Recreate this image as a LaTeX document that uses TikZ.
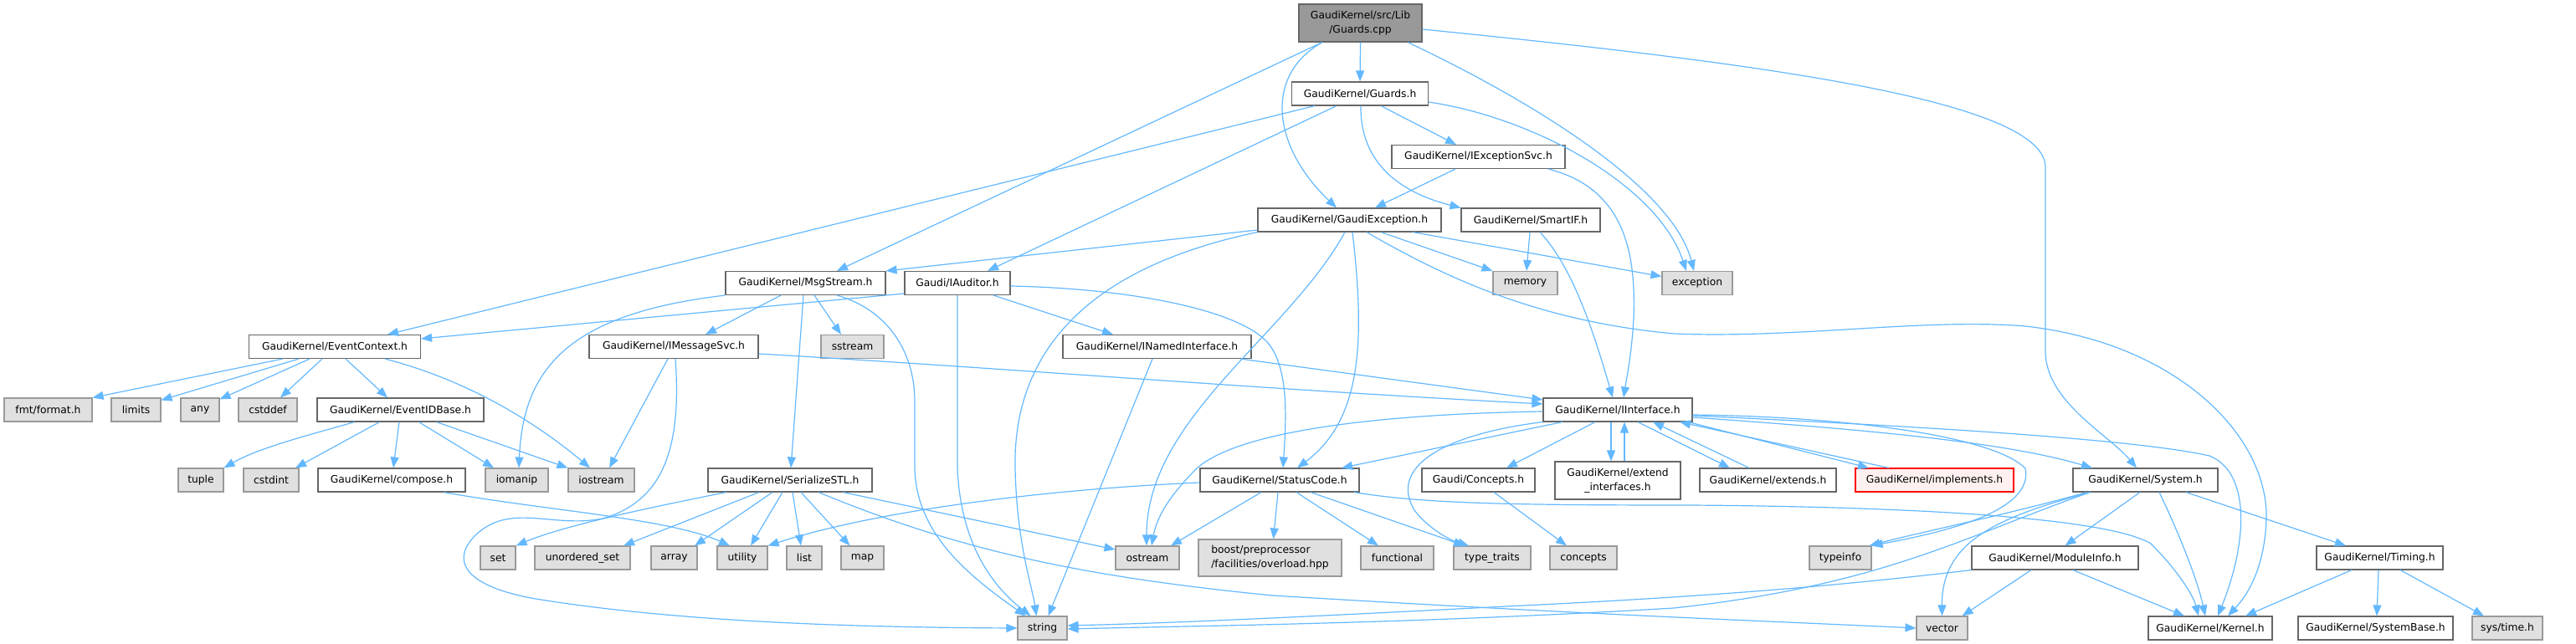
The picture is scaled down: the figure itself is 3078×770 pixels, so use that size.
\documentclass[tikz,border=0pt]{standalone}
\usepackage{fontspec}
\setmainfont{DejaVu Sans}
\usetikzlibrary{arrows.meta}
\definecolor{edgecol}{HTML}{63B8FF}
\definecolor{nodeborder}{HTML}{666666}
\definecolor{sysborder}{HTML}{999999}
\definecolor{sysfill}{HTML}{E0E0E0}
\definecolor{rootfill}{HTML}{999999}
\definecolor{warnborder}{HTML}{FF0000}
\definecolor{warnfill}{HTML}{FFF0F0}
\tikzset{
  nd/.style={draw=nodeborder, fill=white, line width=1.1pt, minimum height=28pt, inner sep=0pt, font=\fontsize{12.3}{17}\selectfont, text=black},
  sys/.style={nd, draw=sysborder, fill=sysfill},
  rootnd/.style={nd, fill=rootfill, align=center},
  warnnd/.style={nd, draw=warnborder, fill=warnfill},
  conn/.style={draw=edgecol, line width=1.2pt, -{Triangle[length=13pt,width=10pt]}}
}
\begin{document}
\begin{tikzpicture}[x=1pt,y=-1pt]
\useasboundingbox (0,0) rectangle (3078,770);
% nodes
\node[rootnd, minimum width=147pt, minimum height=45pt] (root) at (1625.5,27.5) {GaudiKernel/src/Lib\\/Guards.cpp};
\node[nd, minimum width=163pt] (guardsh) at (1625,112) {GaudiKernel/Guards.h};
\node[nd, minimum width=207pt] (iexcsvc) at (1766.5,187.5) {GaudiKernel/IExceptionSvc.h};
\node[nd, minimum width=219pt] (gexc) at (1612.5,263) {GaudiKernel/GaudiException.h};
\node[nd, minimum width=166pt] (smartif) at (1829,263) {GaudiKernel/SmartIF.h};
\node[sys, minimum width=77pt] (memory) at (1822.5,338.5) {memory};
\node[sys, minimum width=84pt] (exception) at (2028,338.5) {exception};
\node[nd, minimum width=191pt] (msgstream) at (962.5,338.5) {GaudiKernel/MsgStream.h};
\node[nd, minimum width=126pt] (iauditor) at (1144,338.5) {Gaudi/IAuditor.h};
\node[nd, minimum width=205pt] (eventctx) at (400,414.5) {GaudiKernel/EventContext.h};
\node[nd, minimum width=202pt] (imsgsvc) at (805,414.5) {GaudiKernel/IMessageSvc.h};
\node[sys, minimum width=75pt] (sstream) at (1018.5,414.5) {sstream};
\node[nd, minimum width=225pt] (inamed) at (1382.5,414.5) {GaudiKernel/INamedInterface.h};
\node[sys, minimum width=105pt] (fmt) at (57.5,490) {fmt/format.h};
\node[sys, minimum width=59pt] (limits) at (162.5,490) {limits};
\node[sys, minimum width=46pt] (nany) at (239,490) {any};
\node[sys, minimum width=70pt] (cstddef) at (320,490) {cstddef};
\node[nd, minimum width=199pt] (eventid) at (478.5,490) {GaudiKernel/EventIDBase.h};
\node[nd, minimum width=178pt] (iinterface) at (1933,490) {GaudiKernel/IInterface.h};
\node[sys, minimum width=54pt] (tuple) at (240,574) {tuple};
\node[sys, minimum width=66pt] (cstdint) at (324,574) {cstdint};
\node[nd, minimum width=176pt] (compose) at (468,574) {GaudiKernel/compose.h};
\node[sys, minimum width=75pt] (iomanip) at (617.5,574) {iomanip};
\node[sys, minimum width=79pt] (iostream) at (718.5,574) {iostream};
\node[nd, minimum width=196pt] (serialize) at (944,574) {GaudiKernel/SerializeSTL.h};
\node[nd, minimum width=190pt] (statuscode) at (1529,574) {GaudiKernel/StatusCode.h};
\node[nd, minimum width=135pt] (conch) at (1766.5,574) {Gaudi/Concepts.h};
\node[nd, minimum width=150pt, minimum height=45pt, align=center] (extendif) at (1933,574.5) {GaudiKernel/extend\\\_interfaces.h};
\node[nd, minimum width=163pt] (extends) at (2112.5,574) {GaudiKernel/extends.h};
\node[warnnd, minimum width=189pt] (implements) at (2311.5,574) {GaudiKernel/implements.h};
\node[nd, minimum width=173pt] (system) at (2563.5,574) {GaudiKernel/System.h};
\node[sys, minimum width=42pt] (nset) at (595,667) {set};
\node[sys, minimum width=114pt] (uset) at (696,667) {unordered\_set};
\node[sys, minimum width=55pt] (narray) at (805.5,667) {array};
\node[sys, minimum width=60pt] (utility) at (887,667) {utility};
\node[sys, minimum width=42pt] (nlist) at (961,667) {list};
\node[sys, minimum width=51pt] (nmap) at (1030.5,667) {map};
\node[sys, minimum width=76pt] (ostream) at (1371,667) {ostream};
\node[sys, minimum width=171pt, minimum height=44pt, align=left] (boost) at (1517.5,667) {boost/preprocessor\\/facilities/overload.hpp};
\node[sys, minimum width=87pt] (functional) at (1669.5,667) {functional};
\node[sys, minimum width=92pt] (typetraits) at (1783,667) {type\_traits};
\node[sys, minimum width=80pt] (concstd) at (1892,667) {concepts};
\node[sys, minimum width=74pt] (typeinfo) at (2199,667) {typeinfo};
\node[nd, minimum width=199pt] (moduleinfo) at (2455.5,667) {GaudiKernel/ModuleInfo.h};
\node[nd, minimum width=151pt] (timing) at (2843.5,667) {GaudiKernel/Timing.h};
\node[sys, minimum width=59pt] (nstring) at (1245.5,751) {string};
\node[sys, minimum width=61pt] (nvector) at (2320.5,751) {vector};
\node[nd, minimum width=148pt] (kernel) at (2641,751) {GaudiKernel/Kernel.h};
\node[nd, minimum width=185pt] (systembase) at (2838.5,751) {GaudiKernel/SystemBase.h};
\node[sys, minimum width=84pt] (systime) at (2996,751) {sys/time.h};
% root edges
\draw[conn] (root.south) -- (guardsh.north);
\draw[conn] ([xshift=-45.5pt]root.south) -- ([xshift=37.5pt]msgstream.north);
\draw[conn] ([xshift=-45.5pt]root.south) .. controls (1510,90) and (1520,175) .. ([xshift=-15.5pt]gexc.north);
\draw[conn] ([xshift=56.5pt]root.south) .. controls (1850,130) and (2000,230) .. ([xshift=-4pt]exception.north);
\draw[conn] ([yshift=-7.5pt]root.east) .. controls (2100,75) and (2444,120) .. (2444,200) -- (2444,420) .. controls (2444,480) and (2520,520) .. ([xshift=-10.5pt]system.north);
% Guards.h
\draw[conn] ([xshift=-54pt]guardsh.south) -- ([xshift=63pt]eventctx.north);
\draw[conn] ([xshift=-28pt]guardsh.south) -- ([xshift=36pt]iauditor.north);
\draw[conn] ([xshift=25pt]guardsh.south) -- ([xshift=-26.5pt]iexcsvc.north);
\draw[conn] ([xshift=1pt]guardsh.south) .. controls (1625,200) and (1680,232) .. (smartif.north west);
\draw[conn] ([yshift=-10pt]guardsh.east) .. controls (1830,140) and (1980,220) .. ([xshift=-13pt]exception.north);
% IExceptionSvc
\draw[conn] ([xshift=-27.5pt]iexcsvc.south) -- ([xshift=30.5pt]gexc.north);
\draw[conn] ([xshift=83.5pt]iexcsvc.south) .. controls (1940,225) and (1955,300) .. (1952,380) .. controls (1950,420) and (1944,450) .. ([xshift=7pt]iinterface.north);
% GaudiException
\draw[conn] ([yshift=-12pt]gexc.west) -- (msgstream.north east);
\draw[conn] (gexc.south west) .. controls (1300,320) and (1210,420) .. (1213,560) .. controls (1215,650) and (1233,700) .. ([xshift=-7pt]nstring.north);
\draw[conn] ([xshift=-5.5pt]gexc.south) .. controls (1540,400) and (1370,500) .. ([xshift=-1pt]ostream.north);
\draw[conn] ([xshift=3.5pt]gexc.south) .. controls (1630,400) and (1630,500) .. ([xshift=21pt]statuscode.north);
\draw[conn] ([xshift=37.5pt]gexc.south) -- (memory.north west);
\draw[conn] ([xshift=75.5pt]gexc.south) -- ([yshift=8pt]exception.west);
\draw[conn] ([xshift=20.5pt]gexc.south) .. controls (1740,340) and (1850,385) .. (2000,399) .. controls (2150,405) and (2300,380) .. (2420,390) .. controls (2600,410) and (2710,520) .. (2708,620) .. controls (2706,680) and (2685,712) .. ([xshift=21pt]kernel.north);
% SmartIF
\draw[conn] ([xshift=-1pt]smartif.south) -- ([xshift=1.5pt]memory.north);
\draw[conn] ([xshift=11pt]smartif.south) .. controls (1880,320) and (1905,400) .. ([xshift=-6pt]iinterface.north);
% MsgStream
\draw[conn] ([xshift=-29.5pt]msgstream.south) -- ([xshift=38pt]imsgsvc.north);
\draw[conn] ([xshift=-2.5pt]msgstream.south) -- ([xshift=1pt]serialize.north);
\draw[conn] ([xshift=10.5pt]msgstream.south) -- ([xshift=-13.5pt]sstream.north);
\draw[conn] (msgstream.south west) .. controls (680,375) and (625,440) .. ([xshift=2.5pt]iomanip.north);
\draw[conn] ([xshift=37.5pt]msgstream.south) .. controls (1060,370) and (1093,420) .. (1093,480) -- (1093,560) .. controls (1095,640) and (1160,690) .. ([xshift=-20pt]nstring.north);
% IAuditor
\draw[conn] ([yshift=-12.5pt]iauditor.west) -- ([yshift=9.5pt]eventctx.east);
\draw[conn] ([xshift=43pt]iauditor.south) -- ([xshift=-52.5pt]inamed.north);
\draw[conn] (iauditor.south) -- (1144,560) .. controls (1148,650) and (1185,700) .. ([xshift=-14pt]nstring.north);
\draw[conn] ([yshift=-3.5pt]iauditor.east) .. controls (1350,345) and (1480,370) .. (1515,410) .. controls (1540,440) and (1537,500) .. ([xshift=4pt]statuscode.north);
% IMessageSvc, INamedInterface
\draw[conn] ([yshift=-8.5pt]imsgsvc.east) .. controls (1200,440) and (1500,465) .. ([yshift=7pt]iinterface.west);
\draw[conn] ([xshift=99.5pt]inamed.south) -- ([yshift=12pt]iinterface.west);
\draw[conn] ([xshift=-7pt]imsgsvc.south) -- ([xshift=9.5pt]iostream.north);
\draw[conn] ([xshift=2pt]imsgsvc.south) .. controls (815,540) and (790,600) .. (720,620) .. controls (660,632) and (610,600) .. (568,640) .. controls (540,668) and (550,700) .. (640,716) .. controls (800,742) and (1000,750) .. (nstring.west);
\draw[conn] ([xshift=-5.5pt]inamed.south) -- ([xshift=7pt]nstring.north);
% EventContext
\draw[conn] ([xshift=-62pt]eventctx.south) -- (fmt.north east);
\draw[conn] ([xshift=-43pt]eventctx.south) -- ([yshift=-3pt]limits.north east);
\draw[conn] ([xshift=-30pt]eventctx.south) -- ([yshift=-2pt]nany.north east);
\draw[conn] ([xshift=-15pt]eventctx.south) -- ([xshift=15pt]cstddef.north);
\draw[conn] ([xshift=13pt]eventctx.south) -- ([xshift=-15.5pt]eventid.north);
\draw[conn] ([xshift=60pt]eventctx.south) .. controls (560,455) and (640,505) .. ([xshift=-13.5pt]iostream.north);
% EventIDBase
\draw[conn] ([xshift=-55pt]eventid.south) .. controls (370,520) and (310,535) .. (tuple.north east);
\draw[conn] ([xshift=-25pt]eventid.south) -- ([xshift=29pt]cstdint.north);
\draw[conn] ([xshift=-1.5pt]eventid.south) -- ([xshift=2pt]compose.north);
\draw[conn] ([xshift=22pt]eventid.south) -- ([xshift=-27.5pt]iomanip.north);
\draw[conn] ([xshift=43pt]eventid.south) -- (iostream.north west);
% compose
\draw[conn] ([xshift=62pt]compose.south) .. controls (650,610) and (800,620) .. ([xshift=-15pt]utility.north);
% SerializeSTL
\draw[conn] ([xshift=-76pt]serialize.south) .. controls (760,610) and (670,630) .. (nset.north east);
\draw[conn] ([xshift=-37pt]serialize.south) -- ([xshift=49pt]uset.north);
\draw[conn] ([xshift=-21pt]serialize.south) -- ([xshift=24.5pt]narray.north);
\draw[conn] ([xshift=-9pt]serialize.south) -- ([xshift=10pt]utility.north);
\draw[conn] ([xshift=3pt]serialize.south) -- ([xshift=-4pt]nlist.north);
\draw[conn] ([xshift=13pt]serialize.south) -- ([xshift=-15pt]nmap.north);
\draw[conn] ([xshift=63pt]serialize.south) -- ([yshift=10pt]ostream.west);
\draw[conn] ([xshift=34pt]serialize.south) .. controls (1150,660) and (1300,690) .. (1520,712) .. controls (1900,735) and (2100,742) .. (nvector.west);
% StatusCode
\draw[conn] ([yshift=-3pt]statuscode.west) .. controls (1250,585) and (1050,610) .. (utility.north east);
\draw[conn] ([xshift=-22pt]statuscode.south) -- ([xshift=28pt]ostream.north);
\draw[conn] ([xshift=-2pt]statuscode.south) -- ([xshift=4pt]boost.north);
\draw[conn] ([xshift=20pt]statuscode.south) -- ([xshift=-22.5pt]functional.north);
\draw[conn] ([xshift=37pt]statuscode.south) -- ([xshift=-33pt]typetraits.north);
\draw[conn] ([xshift=89pt]statuscode.south) .. controls (1700,602) and (1800,604) .. (2020,604) .. controls (2300,606) and (2520,620) .. (2570,650) .. controls (2600,680) and (2620,710) .. ([xshift=-14pt]kernel.north);
% IInterface
\draw[conn] ([xshift=-66pt]iinterface.south) -- ([xshift=74pt]statuscode.north);
\draw[conn] ([yshift=-2pt]iinterface.west) .. controls (1650,495) and (1480,515) .. (1430,560) .. controls (1395,595) and (1382,620) .. ([xshift=5pt]ostream.north);
\draw[conn] ([xshift=-27pt]iinterface.south) -- ([xshift=33.5pt]conch.north);
\draw[conn] ([xshift=-8pt]iinterface.south) -- ([xshift=-8pt]extendif.north);
\draw[conn] ([xshift=8pt]extendif.north) -- ([xshift=8pt]iinterface.south);
\draw[conn] ([xshift=24pt]iinterface.south) -- ([xshift=-45.5pt]extends.north);
\draw[conn] ([xshift=-22.5pt]extends.north) -- ([xshift=42pt]iinterface.south);
\draw[conn] ([xshift=84pt]iinterface.south) -- ([xshift=-78.5pt]implements.north);
\draw[conn] ([xshift=-54.5pt]implements.north) -- ([xshift=74pt]iinterface.south);
\draw[conn] (iinterface.south west) .. controls (1720,520) and (1660,560) .. (1690,610) .. controls (1705,630) and (1730,645) .. ([xshift=-28pt]typetraits.north);
\draw[conn] ([yshift=-7pt]iinterface.east) .. controls (2300,510) and (2550,525) .. (2640,545) .. controls (2690,565) and (2685,650) .. ([xshift=9pt]kernel.north);
\draw[conn] ([yshift=-6pt]iinterface.east) .. controls (2200,498) and (2380,520) .. (2420,560) .. controls (2430,610) and (2330,635) .. (typeinfo.north east);
\draw[conn] ([yshift=-9pt]iinterface.east) .. controls (2250,515) and (2400,530) .. ([xshift=-63.5pt]system.north);
% Concepts
\draw[conn] ([xshift=18.5pt]conch.south) -- ([xshift=-20pt]concstd.north);
% System
\draw[conn] ([xshift=-66pt]system.south) .. controls (2350,640) and (2250,700) .. (2000,727) .. controls (1700,745) and (1450,748) .. ([yshift=-1pt]nstring.east);
\draw[conn] ([xshift=-70pt]system.south) .. controls (2400,615) and (2300,635) .. ([xshift=-3pt]typeinfo.north east);
\draw[conn] ([xshift=-66pt]system.south) .. controls (2380,620) and (2320,650) .. (nvector.north);
\draw[conn] ([xshift=-6.5pt]system.south) -- ([xshift=12pt]moduleinfo.north);
\draw[conn] ([xshift=16.5pt]system.south) .. controls (2600,630) and (2625,690) .. ([xshift=-6pt]kernel.north);
\draw[conn] ([xshift=48.5pt]system.south) -- ([xshift=-40.5pt]timing.north);
% ModuleInfo
\draw[conn] (moduleinfo.south west) .. controls (2200,700) and (2050,713) .. (1800,725) .. controls (1550,738) and (1400,745) .. ([yshift=3pt]nstring.east);
\draw[conn] ([xshift=-28.5pt]moduleinfo.south) -- ([xshift=24pt]nvector.north);
\draw[conn] ([xshift=21.5pt]moduleinfo.south) -- ([xshift=-31pt]kernel.north);
% Timing
\draw[conn] ([xshift=-33.5pt]timing.south) -- ([xshift=42pt]kernel.north);
\draw[conn] ([xshift=-1.5pt]timing.south) -- ([xshift=1.5pt]systembase.north);
\draw[conn] ([xshift=24.5pt]timing.south) -- ([xshift=-28pt]systime.north);
\end{tikzpicture}
\end{document}
